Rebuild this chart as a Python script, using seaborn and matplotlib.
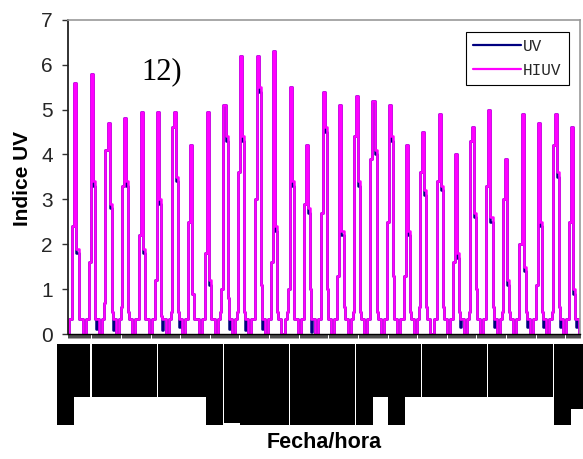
import numpy as np
import pandas as pd
import matplotlib
matplotlib.use("Agg")
import matplotlib.pyplot as plt
import seaborn as sns
from matplotlib.patches import Rectangle
from matplotlib.lines import Line2D

# ---------------- data ----------------
series_names = ["UV", "HIUV"]
step = 0.33  # low plateau value at dawn / dusk

hiuv_am_low = [0.33, 0.33, 0.7, 0.6, 0.33, 0.33, 0.5, 0.33, 0.33, 0.5, 0.5, 0.33, 0.33, 0.5, 0.33, 0.33,
               0.33, 0.5, 0.33, 0.33, 0.33, 0.6, 0.33, 0.33, 0.5, 0.33, 0.5, 0.33, 0.33, 0.5, 0.33]
hiuv_am = [2.4, 1.6, 4.1, 3.3, 2.2, 1.2, 4.6, 2.5, 1.8, 1.0, 3.6, 3.0, 1.6, 1.0, 2.9, 2.7,
           1.3, 4.4, 3.9, 2.5, 1.3, 3.6, 3.4, 1.6, 4.3, 3.3, 3.0, 2.0, 1.1, 4.2, 2.5]
hiuv_peak = [5.6, 5.8, 4.7, 4.8, 4.95, 4.95, 4.95, 4.2, 4.95, 5.1, 6.2, 6.2, 6.3, 5.5, 4.2, 5.4,
             5.1, 5.3, 5.2, 5.1, 4.2, 4.5, 4.9, 4.0, 4.6, 5.0, 3.9, 4.9, 4.7, 4.9, 4.6]
hiuv_pm = [1.9, 3.4, 2.9, 3.4, 1.9, 3.0, 3.5, 0.9, 1.2, 4.4, 4.4, 5.5, 2.4, 3.4, 2.8, 4.6,
           2.3, 3.4, 4.1, 4.4, 2.3, 3.2, 3.3, 1.8, 2.7, 2.6, 1.2, 1.5, 2.5, 3.6, 1.0]
hiuv_pm_low = [0.33, 0.33, 0.5, 0.5, 0.33, 0.4, 0.5, 0.33, 0.33, 0.8, 0.5, 1.1, 0.5, 0.33, 1.0, 1.0,
               0.6, 0.5, 0.5, 1.3, 0.5, 0.6, 0.6, 0.5, 1.0, 0.6, 0.5, 0.5, 0.5, 0.6, 0.33]

uv_pm = [1.8, 3.3, 2.8, 3.3, 1.8, 2.9, 3.4, 0.9, 1.1, 4.3, 4.3, 5.4, 2.3, 3.3, 2.7, 4.5,
         2.2, 3.3, 4.0, 4.3, 2.2, 3.1, 3.2, 1.7, 2.6, 2.5, 1.1, 1.4, 2.4, 3.5, 0.9]
uv_eve = [0.33, 0.12, 0.1, 0.33, 0.33, 0.1, 0.15, 0.33, 0.33, 0.12, 0.1, 0.12, 0.33, 0.33, 0.05, 0.33,
          0.33, 0.33, 0.33, 0.33, 0.33, 0.33, 0.33, 0.15, 0.33, 0.15, 0.33, 0.15, 0.15, 0.15, 0.15]

# ---------------- build long table ----------------
hiuv, uv = [], []
for d in range(len(hiuv_peak)):
    hiuv += [0, 0, step, step, hiuv_am_low[d], hiuv_am[d], hiuv_am[d], hiuv_peak[d], hiuv_peak[d],
             hiuv_pm[d], hiuv_pm[d], hiuv_pm_low[d], step, step, step, 0]
    uv += [0, 0, step, step, hiuv_am_low[d], hiuv_am[d], hiuv_am[d], hiuv_peak[d], hiuv_peak[d],
           uv_pm[d], uv_pm[d], hiuv_pm_low[d], uv_eve[d], step, step, 0]
n = len(hiuv)
idx = list(range(n))
df = pd.DataFrame({
    "idx": idx + idx,
    "value": uv + hiuv,
    "series": ["UV"] * n + ["HIUV"] * n,
})

# ---------------- figure ----------------
sns.set_theme(style="white")
plt.rcParams["font.family"] = ["Liberation Sans", "DejaVu Sans"]

W, H = 583, 459
fig = plt.figure(figsize=(W / 100, H / 100), dpi=100)
fig.patch.set_facecolor("white")
L, R, T, B = 67.7, 580.0, 19.7, 334.0
ax = fig.add_axes([L / W, 1 - B / H, (R - L) / W, (B - T) / H])

colors = {"UV": "#000080", "HIUV": "#FF00FF"}
sns.lineplot(data=df, x="idx", y="value", hue="series", hue_order=series_names,
             palette=colors, estimator=None, linewidth=1.8, legend=False, ax=ax,
             drawstyle="steps-mid")

ax.set_xlim(0, n - 1)
ax.set_ylim(0, 7)
ax.set_xlabel("")
ax.set_ylabel("")
ax.set_xticks(idx)
ax.set_yticks(range(8))
ax.tick_params(axis="x", bottom=True, length=3, width=0.5, color="black",
               labelbottom=False, direction="out")
ax.tick_params(axis="y", left=True, length=4.3, width=1.0, color="#333333",
               labelsize=15, pad=6.5, direction="out")
for s in ["top", "right"]:
    ax.spines[s].set_color("#999999")
    ax.spines[s].set_linewidth(1.2)
ax.spines["left"].set_color("#222222")
ax.spines["left"].set_linewidth(1.3)
ax.spines["bottom"].set_color("black")
ax.spines["bottom"].set_linewidth(1.0)

# legend
handles = [Line2D([], [], color=colors[s], lw=1.6) for s in series_names]
leg = ax.legend(handles, series_names, loc="upper right",
                bbox_to_anchor=(568.7 / W, 1 - 31.7 / H), bbox_transform=fig.transFigure,
                borderaxespad=0, frameon=True, fancybox=False, framealpha=1,
                handlelength=3.0, handletextpad=0.15, labelspacing=0.55,
                borderpad=0.45, prop={"family": "Liberation Mono", "size": 11.5})
leg.get_frame().set_edgecolor("black")
leg.get_frame().set_linewidth(0.8)

# panel tag
fig.text(141.7 / W, 1 - 79.5 / H, "12)", family="Liberation Serif", fontsize=22,
         ha="left", va="baseline", color="black")

# axis titles
fig.text(22.5 / W, 1 - 179 / H, "Indice UV", rotation=90, ha="center", va="center",
         fontsize=15, fontweight="bold", color="black")
fig.text(324 / W, 1 - 443 / H, "Fecha/hora", ha="center", va="center",
         fontsize=15.5, fontweight="bold", color="black")

# overprinted (illegible) date/time tick label blocks
label_top = 344
blocks = [(57, 73.7, 424.7), (73.7, 90, 396.7), (91.7, 157, 396.7), (158, 206, 396.7),
          (206, 222.7, 424.7), (224, 240, 422.7), (240, 289, 424.7), (290, 355, 424.7),
          (356, 372.7, 424.7), (372.7, 388, 396.7), (388, 405, 424.7), (405, 420.7, 396.7),
          (421.7, 487, 396.7), (488, 553.3, 396.7), (554.3, 570.7, 424.7), (570.7, 583, 409)]
for x0, x1, yb in blocks:
    fig.patches.append(Rectangle((x0 / W, 1 - yb / H), (x1 - x0) / W, (yb - label_top) / H,
                                 transform=fig.transFigure, facecolor="black",
                                 edgecolor="none", zorder=5))

fig.savefig("out.png", dpi=100)
